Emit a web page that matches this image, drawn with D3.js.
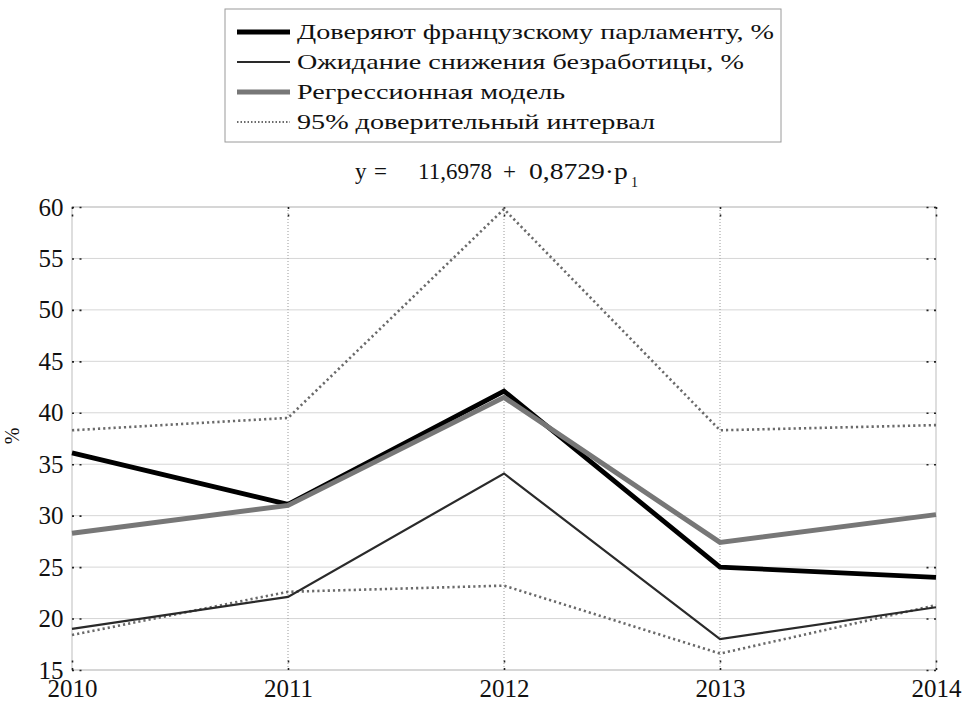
<!DOCTYPE html>
<html>
<head>
<meta charset="utf-8">
<script src="https://cdn.jsdelivr.net/npm/d3@7"></script>
<style>
  html, body { margin: 0; padding: 0; background: #fff; }
  svg text { font-family: "Liberation Serif", "DejaVu Serif", serif; fill: #111; }
</style>
</head>
<body>
<svg id="chart" width="966" height="702"></svg>
<script>
const years = [2010, 2011, 2012, 2013, 2014];
const trustParliament = [36.1, 31.1, 42.1, 25.0, 24.0];
const unemploymentExpect = [19.0, 22.1, 34.1, 18.0, 21.1];
const regressionModel = [28.3, 31.0, 41.5, 27.4, 30.1];
const ciUpper = [38.3, 39.5, 59.8, 38.3, 38.8];
const ciLower = [18.4, 22.6, 23.2, 16.6, 21.3];
const yTicks = [15, 20, 25, 30, 35, 40, 45, 50, 55, 60];
const legendLabels = [
  "Доверяют французскому парламенту, %",
  "Ожидание снижения безработицы, %",
  "Регрессионная модель",
  "95% доверительный интервал"
];
const formulaParts = ["y", "=", "11,6978", "+", "0,8729·p"];
const formulaSub = "1";
const yLabel = "%";

const svg = d3.select("#chart");
const m = { left: 72, right: 936, top: 207, bottom: 670 };
const x = d3.scaleLinear().domain([2010, 2014]).range([m.left, m.right]);
const y = d3.scaleLinear().domain([15, 60]).range([m.bottom, m.top]);

// horizontal gridlines
svg.append("g").selectAll("line").data(yTicks).join("line")
  .attr("x1", m.left).attr("x2", m.right)
  .attr("y1", d => y(d)).attr("y2", d => y(d))
  .attr("stroke", "#d6d6d6").attr("stroke-width", 1);
// vertical gridlines
svg.append("g").selectAll("line").data(years.slice(1, -1)).join("line")
  .attr("x1", d => x(d)).attr("x2", d => x(d))
  .attr("y1", m.top).attr("y2", m.bottom)
  .attr("stroke", "#9a9a9a").attr("stroke-width", 1).attr("stroke-dasharray", "1,2");

// frame
svg.append("rect").attr("x", m.left).attr("y", m.top)
  .attr("width", m.right - m.left).attr("height", m.bottom - m.top)
  .attr("fill", "none").attr("stroke", "#c8c8c8").attr("stroke-width", 1.2);

// Axes (MATLAB style inner ticks)
const yAxisL = d3.axisLeft(y).tickValues(yTicks).tickSize(-10).tickPadding(16);
const gL = svg.append("g").attr("transform", `translate(${m.left},0)`).call(yAxisL);
const yAxisR = d3.axisRight(y).tickValues(yTicks).tickSize(-10).tickFormat("");
const gR = svg.append("g").attr("transform", `translate(${m.right},0)`).call(yAxisR);
const xAxisB = d3.axisBottom(x).tickValues(years).tickSize(-10).tickFormat(d3.format("d")).tickPadding(14);
const gB = svg.append("g").attr("transform", `translate(0,${m.bottom})`).call(xAxisB);
const xAxisT = d3.axisTop(x).tickValues(years).tickSize(-10).tickFormat("");
const gT = svg.append("g").attr("transform", `translate(0,${m.top})`).call(xAxisT);
[gL, gR, gB, gT].forEach(g => {
  g.select(".domain").remove();
  g.selectAll(".tick line").attr("stroke", "#222").attr("stroke-width", 1.6).attr("stroke-dasharray", "2,5.5");
  g.selectAll(".tick text").attr("font-family", "Liberation Serif").attr("font-size", 25).attr("fill", "#111");
});
gL.selectAll(".tick text").attr("dx", "0.3em");
gB.selectAll(".tick text").attr("dy", "0.5em");

// y label
svg.append("text").attr("transform", `translate(19,436) rotate(-90)`)
  .attr("text-anchor", "middle").attr("font-size", 20).text(yLabel);

// lines
const line = d3.line().x((d, i) => x(years[i])).y(d => y(d));
const series = [
  { data: ciUpper, color: "#6a6a6a", width: 2.6, dash: "2.2,3" },
  { data: ciLower, color: "#6a6a6a", width: 2.6, dash: "2.2,3" },
  { data: unemploymentExpect, color: "#2a2a2a", width: 2.2, dash: null },
  { data: trustParliament, color: "#000", width: 4.8, dash: null },
  { data: regressionModel, color: "#777", width: 5, dash: null }
];
series.forEach(s => {
  svg.append("path").attr("d", line(s.data)).attr("fill", "none")
    .attr("stroke", s.color).attr("stroke-width", s.width)
    .attr("stroke-dasharray", s.dash).attr("stroke-linejoin", "miter");
});

// formula
const fx = [355, 374, 418, 503, 529];
const fs = [1, 1, 1, 1, 1.2];
const f = svg.append("g");
formulaParts.forEach((t, i) => {
  f.append("text").attr("transform", `translate(${fx[i]},179) scale(${fs[i]},1)`)
    .attr("font-size", 23).text(t);
});
f.append("text").attr("x", 631).attr("y", 187).attr("font-size", 14).text(formulaSub);

// legend
const lg = svg.append("g");
lg.append("rect").attr("x", 225).attr("y", 9).attr("width", 556).attr("height", 133)
  .attr("fill", "#fff").attr("stroke", "#9a9a9a").attr("stroke-width", 1);
const legStyles = [
  { color: "#000", width: 4.8, dash: null },
  { color: "#2a2a2a", width: 2, dash: null },
  { color: "#777", width: 5, dash: null },
  { color: "#6a6a6a", width: 2, dash: "1.5,2" }
];
legendLabels.forEach((t, i) => {
  const cy = 32 + i * 30;
  lg.append("line").attr("x1", 237).attr("x2", 290).attr("y1", cy).attr("y2", cy)
    .attr("stroke", legStyles[i].color).attr("stroke-width", legStyles[i].width)
    .attr("stroke-dasharray", legStyles[i].dash);
  lg.append("text").attr("transform", `translate(297,${cy + 7}) scale(1.28,1)`)
    .attr("font-size", 22).text(t);
});
</script>
</body>
</html>
